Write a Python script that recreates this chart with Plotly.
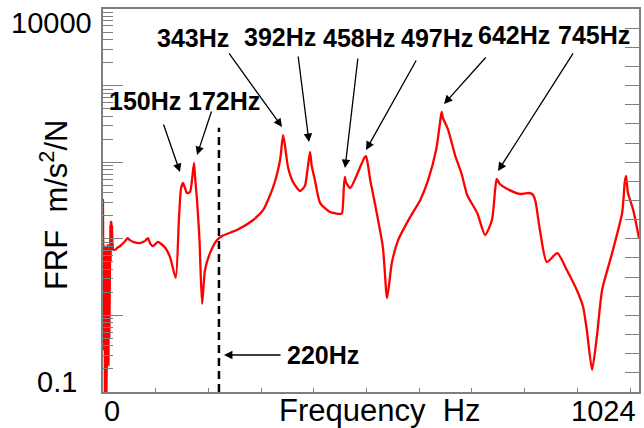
import plotly.graph_objects as go

# ---------------- data ----------------
# low-frequency noisy part
noise_freq_hz = [0, 0.5, 1, 1.5, 2, 2.5, 3, 3.5, 4, 4.5, 5, 5.5, 6, 6.5, 7, 7.5, 8, 8.5, 9, 9.5,
                 10, 10.5, 11, 12, 13, 13.5, 14, 14.5, 15, 15.5, 16, 16.5, 17, 17.5, 18, 19, 22.8]
noise_frf = [33, 2.0, 8.0, 0.35, 7.5, 1.3, 8.2, 0.08, 6.5, 0.2, 7.8, 0.5, 8.0, 0.09, 5.5, 0.3, 7.2, 0.25, 8.5, 0.7,
             6.5, 0.22, 8.0, 0.5, 8.8, 1.5, 15, 5, 17, 6, 16, 7, 15, 8, 9, 7.3, 7.1]
# smooth part
freq_hz = [22.8, 27, 32, 40, 47, 51, 60, 70, 80, 85, 90, 95, 104, 117, 127, 138, 144, 148,
           151.8, 156, 159, 165, 169, 172.7, 175, 178.4, 183, 188, 193.5, 203, 216, 226,
           254, 285, 304, 323, 336, 341.6, 345, 351, 360.5, 374, 383, 388, 392.8, 396,
           402, 412, 431, 450, 453.5, 457, 459, 461, 469, 484, 496, 499, 503, 507, 512,
           531, 539, 548, 560, 583, 602, 617, 632, 640, 642.5, 645, 655, 668, 681, 691,
           710, 725, 738, 744, 747, 753, 767, 791, 810, 815, 820, 829, 842, 862, 880,
           899, 911, 918, 928, 937, 947, 966, 985, 990, 992.4, 996, 1006, 1017]
frf = [7.1, 7.6, 8.0, 9.0, 10.2, 9.6, 9.0, 8.8, 9.4, 10.2, 8.6, 8.0, 9.1, 7.8, 5.8, 3.1, 17.6, 45,
       53.5, 45, 39.6, 40.8, 60, 97.7, 60, 32.1, 10, 1.41, 3.92, 6.5, 9.6, 10.9,
       13.0, 17.6, 23.8, 47.5, 107, 226, 170, 86.5, 55.2, 42.1, 48.9, 80, 136, 90,
       58.6, 29.3, 22.4, 21.1, 21.7, 47.5, 64.1, 55, 46.0, 74.5, 115, 120, 90, 58.6, 39.6,
       7.8, 1.69, 4.83, 9.6, 19.3, 32.1, 58.6, 144, 350, 452, 380, 263, 124, 68.1, 37.3,
       21.7, 11.2, 17.6, 43.4, 60.4, 51.9, 44.7, 38.5, 39.6, 38, 32.1, 13.0, 4.98, 6.5, 3.92,
       2.15, 1.29, 0.645, 0.194, 0.523, 2.15, 6.5, 21.7, 55, 66.1, 40, 23.8, 10.2]

peak_labels = ["150Hz", "172Hz", "343Hz", "392Hz", "458Hz", "497Hz", "642Hz", "745Hz"]
cutoff_freq = 220
cutoff_label = "220Hz"
x_tick_labels = ["0", "1024"]
y_tick_labels = ["10000", "0.1"]

# ---------------- figure ----------------
AX = "#7f7f7f"
FONT = "Liberation Sans, Arial, sans-serif"

fig = go.Figure()
fig.add_trace(go.Scatter(x=noise_freq_hz, y=noise_frf, mode="lines",
                         line=dict(color="#ff0000", width=2.2), showlegend=False,
                         hoverinfo="skip"))
fig.add_trace(go.Scatter(x=freq_hz, y=frf, mode="lines",
                         line=dict(color="#ff0000", width=2.3, shape="spline", smoothing=0.6),
                         showlegend=False, hoverinfo="skip"))
fig.add_trace(go.Scatter(x=[], y=[], yaxis="y2", showlegend=False))

fig.update_layout(
    width=644, height=428,
    margin=dict(l=103, r=5, t=9, b=36),
    paper_bgcolor="white", plot_bgcolor="white",
    font=dict(family=FONT, color="black"),
    xaxis=dict(range=[0, 1017], showgrid=False, zeroline=False,
               showline=True, linecolor=AX, linewidth=1.5, mirror=True,
               ticks="inside", ticklen=4, tickcolor=AX, tickwidth=1,
               tickvals=list(range(0, 1001, 100)), showticklabels=False),
    yaxis=dict(type="log", range=[-1, 4], showgrid=False, zeroline=False,
               showline=True, linecolor=AX, linewidth=1.5,
               ticks="inside", ticklen=20, tickcolor=AX, tickwidth=1, dtick=1,
               showticklabels=False,
               minor=dict(ticks="inside", ticklen=10, tickcolor=AX, tickwidth=1,
                          dtick="D1", showgrid=False)),
    yaxis2=dict(overlaying="y", side="right", anchor="x", range=[0, 20],
                showgrid=False, zeroline=False, showline=True, linecolor=AX,
                linewidth=1.5, ticks="inside", ticklen=14, tickcolor=AX,
                tickwidth=1, dtick=1, showticklabels=False),
)

# dashed cutoff line
fig.add_shape(type="line", xref="x", yref="paper", x0=cutoff_freq, x1=cutoff_freq,
              y0=0, y1=0.69, line=dict(color="black", width=2.5, dash="8px,5px"))

# peak arrows (tail -> head, data coords, y in log10)
arrows = [
    ((113.9, 2.512), (146.1, 1.872)),
    ((206.8, 2.681), (178.4, 2.094)),
    ((237.2, 3.439), (339.7, 2.460)),
    ((370.0, 3.399), (390.9, 2.264)),
    ((483.9, 3.373), (459.2, 1.924)),
    ((595.8, 3.347), (499.1, 2.159)),
    ((728.7, 3.386), (647.1, 2.760)),
    ((893.7, 3.439), (749.5, 1.885)),
]
text_pos = [(79.7, 2.799), (229.6, 2.799), (170.8, 3.621), (334.9, 3.634),
            (485.8, 3.621), (633.8, 3.621), (779.9, 3.661), (931.7, 3.661)]

for (tail, head) in arrows:
    fig.add_annotation(x=head[0], y=head[1], ax=tail[0], ay=tail[1],
                       xref="x", yref="y", axref="x", ayref="y", text="",
                       showarrow=True, arrowhead=2, arrowsize=1.3,
                       arrowwidth=1.3, arrowcolor="black", standoff=0, startstandoff=0)
for lab, (tx, ty) in zip(peak_labels, text_pos):
    fig.add_annotation(x=tx, y=ty, xref="x", yref="y", text="<b>%s</b>" % lab,
                       showarrow=False, font=dict(size=25, family=FONT, color="black"),
                       xanchor="center", yanchor="middle")

# 220Hz arrow + label
fig.add_annotation(x=229.6, y=-0.517, ax=339.7, ay=-0.517, xref="x", yref="y",
                   axref="x", ayref="y", text="", showarrow=True, arrowhead=2,
                   arrowsize=1.3, arrowwidth=1.3, arrowcolor="black",
                   standoff=0, startstandoff=0)
fig.add_annotation(x=417.1, y=-0.517, xref="x", yref="y", text="<b>%s</b>" % cutoff_label,
                   showarrow=False, font=dict(size=25, family=FONT, color="black"),
                   xanchor="center", yanchor="middle")

# axis number labels
for txt, px in zip(x_tick_labels, [0.0168, 0.933]):
    fig.add_annotation(x=px, y=-0.0496, xref="paper", yref="paper", text=txt,
                       showarrow=False, font=dict(size=29, family=FONT),
                       xanchor="center", yanchor="middle")
for txt, (px, py) in zip(y_tick_labels, [(-0.097, 0.963), (-0.0858, 0.026)]):
    fig.add_annotation(x=px, y=py, xref="paper", yref="paper", text=txt,
                       showarrow=False, font=dict(size=29, family=FONT),
                       xanchor="center", yanchor="middle")

# axis titles
fig.add_annotation(x=0.517, y=-0.0496, xref="paper", yref="paper",
                   text="Frequency  Hz", showarrow=False,
                   font=dict(size=31, family=FONT), xanchor="center", yanchor="middle")
fig.add_annotation(x=-0.0914, y=0.488, xref="paper", yref="paper",
                   text="FRF  m/s<sup>2</sup>/N", showarrow=False, textangle=-90,
                   font=dict(size=31, family=FONT), xanchor="center", yanchor="middle")

fig.write_html("out.html")
